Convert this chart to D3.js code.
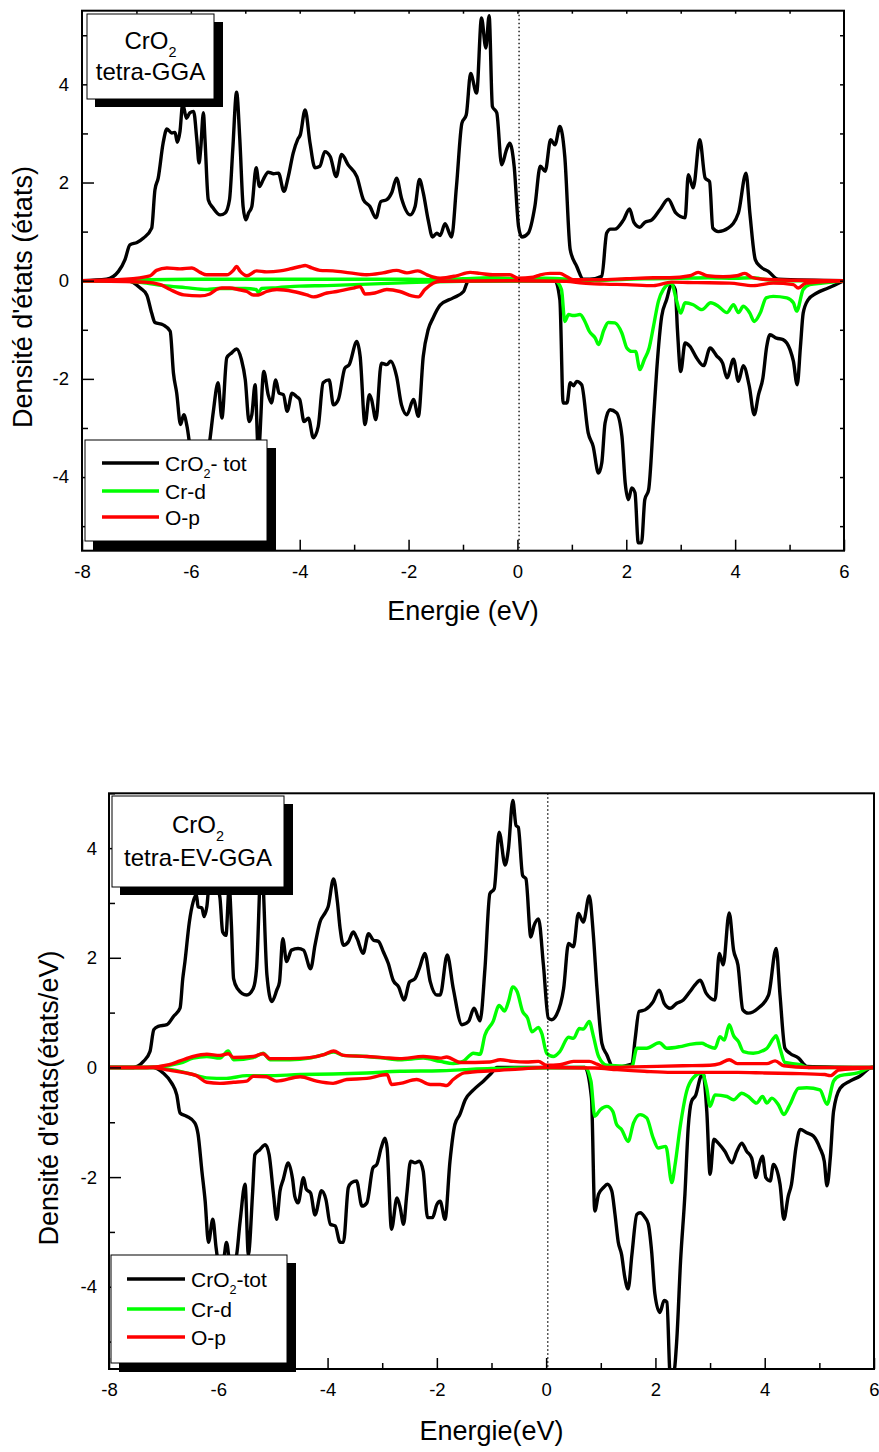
<!DOCTYPE html>
<html><head><meta charset="utf-8">
<script src="https://cdn.jsdelivr.net/npm/d3@7"></script>
<style>
body{margin:0;background:#fff}
svg{display:block}
text{font-family:"Liberation Sans",Arial,Helvetica,sans-serif;fill:#000}
</style>
</head><body>
<script>
// ---------- axes ----------
const xTicks = [-8, -6, -4, -2, 0, 2, 4, 6];
const xMinor = [-7, -5, -3, -1, 1, 3, 5];
const yTicks = [-4, -2, 0, 2, 4];
const yMinor = [-5, -3, -1, 1, 3, 5];
const seriesNames = ["CrO2- tot", "Cr-d", "O-p"];

// ---------- panel 1 : tetra-GGA ----------
const p1TotUpE = [-8,-7.55,-7.33,-7.21,-7.12,-6.99,-6.87,-6.72,-6.66,-6.60,-6.51,-6.44,-6.35,-6.29,-6.25,-6.20,-6.15,-6.08,-6.02,-5.95,-5.89,-5.85,-5.82,-5.77,-5.74,-5.68,-5.59,-5.46,-5.37,-5.29,-5.23,-5.16,-5.10,-5.04,-4.99,-4.94,-4.88,-4.80,-4.74,-4.67,-4.58,-4.48,-4.39,-4.29,-4.21,-4.12,-4.04,-3.99,-3.90,-3.81,-3.72,-3.63,-3.54,-3.44,-3.33,-3.23,-3.11,-2.95,-2.83,-2.71,-2.60,-2.51,-2.40,-2.31,-2.22,-2.13,-1.97,-1.88,-1.80,-1.73,-1.64,-1.56,-1.48,-1.42,-1.33,-1.21,-1.12,-1.02,-0.94,-0.86,-0.75,-0.66,-0.58,-0.52,-0.46,-0.38,-0.29,-0.20,-0.14,-0.06,0.02,0.08,0.20,0.32,0.42,0.51,0.61,0.69,0.78,0.87,0.97,1.09,1.21,1.33,1.55,1.64,1.71,1.79,1.95,2.06,2.14,2.25,2.34,2.47,2.62,2.77,2.91,3.08,3.14,3.23,3.35,3.45,3.53,3.59,3.69,3.87,4.06,4.20,4.27,4.37,4.46,4.61,4.79,6];
const p1TotUpD = [0,0.03,0.19,0.43,0.73,0.78,0.87,1.07,1.85,2.09,2.80,3.09,3.01,3.02,2.82,3.04,3.60,3.31,3.42,3.45,2.87,2.40,2.67,3.42,2.87,1.65,1.48,1.34,1.38,1.65,2.67,3.84,2.87,1.51,1.24,1.38,1.51,2.30,1.92,2.06,2.21,2.18,2.19,1.82,2.12,2.60,2.87,2.97,3.48,2.80,2.30,2.33,2.63,2.53,2.12,2.57,2.36,2.12,1.65,1.51,1.28,1.61,1.65,1.79,2.09,1.68,1.34,1.51,2.06,1.79,1.24,0.89,0.97,0.92,1.16,0.89,1.92,3.21,3.38,4.22,3.82,5.35,4.74,5.40,3.55,3.42,2.36,2.67,2.80,2.33,1.11,0.89,0.97,1.51,2.33,2.23,2.87,2.77,3.14,2.53,0.63,0.29,0.03,0.03,0.09,0.97,1.05,1.05,1.24,1.46,1.19,1.09,1.19,1.24,1.45,1.66,1.38,1.28,2.16,1.89,2.87,2.09,2.02,1.07,1.00,1.07,1.38,2.19,1.38,0.43,0.29,0.19,0.03,0];

const p1TotDnE = [-8,-7.15,-6.93,-6.81,-6.72,-6.66,-6.51,-6.38,-6.32,-6.26,-6.19,-6.13,-6.07,-6.00,-5.90,-5.78,-5.70,-5.65,-5.59,-5.50,-5.43,-5.34,-5.25,-5.16,-5.07,-5.00,-4.93,-4.88,-4.82,-4.76,-4.66,-4.58,-4.52,-4.44,-4.38,-4.30,-4.23,-4.14,-4.06,-4.00,-3.92,-3.84,-3.75,-3.66,-3.57,-3.46,-3.38,-3.29,-3.17,-3.09,-2.95,-2.89,-2.80,-2.72,-2.68,-2.60,-2.50,-2.40,-2.33,-2.22,-2.13,-2.03,-1.91,-1.82,-1.73,-1.64,-1.55,-1.42,-1.18,-0.99,-0.90,0.69,0.78,0.84,0.91,0.97,1.03,1.09,1.18,1.30,1.39,1.49,1.55,1.61,1.70,1.82,1.92,1.98,2.04,2.10,2.16,2.22,2.28,2.34,2.41,2.50,2.56,2.65,2.74,2.83,2.90,2.94,3.00,3.08,3.17,3.29,3.42,3.54,3.66,3.77,3.85,3.97,4.06,4.15,4.26,4.35,4.43,4.51,4.58,4.64,4.76,4.88,5.01,5.07,5.14,5.20,5.25,5.34,5.50,5.71,6];
const p1TotDnD = [0,0,-0.15,-0.29,-0.66,-0.85,-0.90,-1.03,-1.88,-2.29,-2.93,-2.73,-2.97,-3.5,-3.9,-3.7,-3.6,-3.24,-2.69,-2.08,-2.80,-1.57,-1.47,-1.39,-1.61,-2.02,-2.87,-2.73,-2.12,-3.5,-1.85,-2.32,-2.49,-2.02,-2.29,-2.32,-2.66,-2.29,-2.36,-2.42,-2.87,-2.80,-3.20,-2.97,-2.08,-2.02,-2.53,-2.42,-1.78,-1.71,-1.24,-1.54,-2.93,-2.32,-2.42,-2.83,-1.68,-1.71,-1.64,-1.95,-2.53,-2.73,-2.42,-2.76,-1.54,-1.00,-0.76,-0.50,-0.35,-0.22,0,0,-0.39,-2.49,-2.49,-2.08,-2.14,-2.05,-2.12,-3.10,-3.37,-3.92,-3.71,-2.90,-2.63,-2.69,-3.17,-4.12,-4.46,-4.22,-4.32,-5.34,-5.34,-4.46,-4.26,-2.83,-1.81,-0.73,-0.39,-0.08,-0.18,-1.00,-1.85,-1.27,-1.34,-1.57,-1.73,-1.37,-1.53,-1.68,-1.98,-1.60,-2.05,-1.73,-2.15,-2.73,-2.32,-1.98,-1.34,-1.10,-1.17,-1.20,-1.41,-1.64,-2.12,-1.34,-0.66,-0.39,-0.25,-0.15,0];

const p1CrUpE = [-8,-7.3,-6.8,-6.0,-5.0,-4.0,-3.0,-2.0,-1.5,-1.0,-0.5,0,0.5,0.9,1.2,1.6,2.0,2.5,3.0,3.5,4.0,4.3,4.6,5.0,6];
const p1CrUpD = [0,0,0.02,0.03,0.03,0.03,0.03,0.03,0.02,0.04,0.06,0.04,0.05,0.03,0,0.01,0.03,0.04,0.05,0.06,0.05,0.06,0.02,0,0];

const p1CrDnE = [-8,-7.3,-6.9,-6.5,-6.1,-5.7,-5.5,-5.0,-4.8,-4.76,-4.7,-4.4,-4.0,-3.5,-3.0,-2.5,-2.0,-1.5,-1.0,0.69,0.81,0.87,0.94,1.03,1.15,1.24,1.32,1.43,1.49,1.59,1.67,1.79,1.92,2.01,2.10,2.17,2.25,2.33,2.42,2.50,2.59,2.68,2.83,2.92,3.00,3.08,3.23,3.39,3.55,3.69,3.85,3.97,4.06,4.15,4.27,4.35,4.46,4.57,4.70,4.95,5.07,5.13,5.25,5.37,5.61,6];
const p1CrDnD = [0,0,-0.04,-0.10,-0.14,-0.18,-0.16,-0.16,-0.18,-0.24,-0.16,-0.14,-0.11,-0.10,-0.08,-0.06,-0.04,-0.02,-0.01,0,-0.18,-0.83,-0.69,-0.71,-0.69,-0.83,-1.03,-1.17,-1.30,-1.00,-0.85,-0.86,-1.07,-1.37,-1.44,-1.44,-1.81,-1.61,-1.37,-0.93,-0.42,-0.18,-0.05,-0.39,-0.66,-0.45,-0.49,-0.59,-0.45,-0.52,-0.65,-0.49,-0.65,-0.52,-0.66,-0.83,-0.66,-0.35,-0.32,-0.35,-0.45,-0.62,-0.18,-0.08,-0.05,0];

const p1OUpE = [-8,-7.2,-6.75,-6.63,-6.44,-6.20,-5.98,-5.83,-5.71,-5.34,-5.22,-5.16,-5.10,-4.97,-4.79,-4.61,-4.36,-4.18,-3.99,-3.90,-3.78,-3.63,-3.39,-3.08,-2.77,-2.47,-2.22,-2.03,-1.83,-1.66,-1.54,-1.42,-1.12,-0.87,-0.69,-0.45,-0.14,0.01,0.29,0.42,0.60,0.78,0.91,1.03,1.5,2.0,2.5,2.8,3.17,3.32,3.48,3.78,4.03,4.18,4.30,4.51,5.0,6];
const p1OUpD = [0,0.03,0.10,0.21,0.26,0.24,0.26,0.17,0.12,0.12,0.21,0.29,0.20,0.10,0.20,0.18,0.20,0.24,0.29,0.31,0.26,0.21,0.20,0.16,0.12,0.16,0.21,0.16,0.20,0.12,0.07,0.05,0.10,0.17,0.15,0.12,0.12,0.05,0.07,0.12,0.15,0.15,0.08,0.02,0.02,0.04,0.06,0.06,0.10,0.17,0.10,0.08,0.10,0.15,0.07,0.03,0.01,0];

const p1ODnE = [-8,-6.85,-6.56,-6.38,-6.13,-5.83,-5.65,-5.53,-5.43,-5.28,-5.13,-4.97,-4.85,-4.76,-4.61,-4.42,-4.12,-3.87,-3.75,-3.50,-3.32,-3.01,-2.89,-2.80,-2.62,-2.40,-2.16,-1.94,-1.82,-1.70,-1.55,-1.42,0,0.9,1.2,1.6,2.01,2.50,2.83,3.3,3.9,4.33,4.7,5.07,5.16,5.3,6];
const p1ODnD = [0,-0.03,-0.08,-0.18,-0.29,-0.31,-0.27,-0.18,-0.15,-0.15,-0.18,-0.22,-0.29,-0.29,-0.22,-0.18,-0.22,-0.29,-0.33,-0.25,-0.22,-0.15,-0.12,-0.27,-0.25,-0.18,-0.22,-0.31,-0.33,-0.18,-0.05,-0.01,0,-0.01,-0.05,-0.07,-0.08,-0.10,-0.03,-0.04,-0.05,-0.10,-0.05,-0.08,-0.15,-0.05,0];

// ---------- panel 2 : tetra-EV-GGA ----------
const p2TotUpE = [-8,-7.55,-7.37,-7.25,-7.18,-7.10,-6.94,-6.82,-6.70,-6.65,-6.61,-6.53,-6.46,-6.40,-6.37,-6.30,-6.26,-6.21,-6.15,-6.05,-5.97,-5.92,-5.86,-5.80,-5.76,-5.72,-5.65,-5.48,-5.36,-5.30,-5.21,-5.11,-5.02,-4.93,-4.88,-4.82,-4.75,-4.66,-4.54,-4.44,-4.31,-4.23,-4.14,-4.05,-3.99,-3.89,-3.82,-3.77,-3.71,-3.62,-3.53,-3.46,-3.35,-3.25,-3.16,-3.07,-2.98,-2.89,-2.80,-2.70,-2.60,-2.50,-2.40,-2.31,-2.22,-2.12,-2.00,-1.94,-1.81,-1.70,-1.54,-1.42,-1.32,-1.21,-1.12,-1.03,-0.95,-0.86,-0.75,-0.69,-0.61,-0.55,-0.51,-0.43,-0.37,-0.28,-0.22,-0.14,-0.05,0.04,0.10,0.19,0.32,0.41,0.50,0.59,0.68,0.79,0.86,0.93,1.02,1.11,1.23,1.57,1.63,1.70,1.81,1.96,2.07,2.16,2.27,2.39,2.51,2.63,2.72,2.82,2.93,3.09,3.17,3.24,3.35,3.43,3.51,3.60,3.70,3.88,4.07,4.21,4.28,4.37,4.46,4.62,4.77,6];
const p2TotUpD = [0,0,0.11,0.29,0.69,0.75,0.78,0.93,1.08,1.62,1.93,2.65,3.02,3.15,2.93,2.91,2.75,2.93,3.5,3.4,3.1,2.47,2.41,3.3,2.6,1.62,1.44,1.32,1.44,1.80,3.8,1.69,1.20,1.41,1.56,2.35,1.93,2.14,2.17,2.14,1.80,2.23,2.65,2.81,2.93,3.44,3.02,2.53,2.23,2.29,2.47,2.35,2.08,2.44,2.32,2.30,2.11,1.90,1.59,1.47,1.23,1.56,1.62,1.84,2.08,1.56,1.32,1.32,2.05,1.44,0.78,0.84,1.08,0.85,1.80,3.17,3.26,4.29,3.69,3.99,4.87,4.41,4.38,3.50,3.44,2.38,2.59,2.71,1.87,0.90,0.87,0.96,1.44,2.26,2.20,2.81,2.65,3.13,2.47,1.44,0.44,0.23,0,0.06,0.53,1.02,1.05,1.20,1.41,1.17,1.08,1.17,1.23,1.38,1.50,1.59,1.35,1.23,2.08,1.87,2.82,2.14,1.87,1.05,0.99,1.08,1.32,2.17,1.32,0.35,0.26,0.17,0.02,0];

const p2TotDnE = [-8,-7.19,-7.01,-6.85,-6.76,-6.70,-6.58,-6.43,-6.37,-6.30,-6.24,-6.18,-6.10,-6.04,-5.97,-5.90,-5.85,-5.78,-5.68,-5.60,-5.51,-5.45,-5.37,-5.33,-5.24,-5.14,-5.07,-4.99,-4.93,-4.87,-4.81,-4.72,-4.64,-4.60,-4.54,-4.44,-4.39,-4.31,-4.23,-4.11,-4.03,-3.95,-3.86,-3.77,-3.71,-3.62,-3.56,-3.47,-3.37,-3.28,-3.17,-3.10,-3.02,-2.95,-2.91,-2.83,-2.73,-2.67,-2.61,-2.55,-2.48,-2.40,-2.32,-2.25,-2.17,-2.08,-2.00,-1.94,-1.85,-1.76,-1.67,-1.58,-1.48,-1.33,-1.15,-1.00,-0.90,0.71,0.83,0.89,0.96,1.05,1.12,1.20,1.26,1.32,1.38,1.44,1.50,1.57,1.66,1.72,1.81,1.87,1.93,1.99,2.08,2.16,2.21,2.27,2.33,2.39,2.46,2.54,2.60,2.66,2.74,2.82,2.87,2.94,3.00,3.07,3.15,3.27,3.40,3.49,3.58,3.67,3.76,3.84,3.90,3.96,4.02,4.10,4.16,4.28,4.35,4.43,4.49,4.57,4.65,4.77,4.89,5.01,5.09,5.14,5.20,5.26,5.38,5.56,5.74,5.96,6];
const p2TotDnD = [0,0,-0.10,-0.29,-0.50,-0.83,-0.89,-1.01,-1.22,-1.89,-2.44,-3.19,-2.77,-3.29,-3.7,-3.5,-3.19,-3.6,-3.5,-2.80,-2.13,-3.41,-2.25,-1.59,-1.50,-1.41,-1.59,-2.31,-2.77,-2.25,-2.04,-1.74,-2.04,-2.35,-2.47,-2.01,-2.22,-2.29,-2.69,-2.25,-2.41,-2.86,-2.89,-3.19,-3.19,-2.19,-2.10,-2.07,-2.53,-2.47,-1.83,-1.77,-1.47,-1.29,-1.47,-2.95,-2.38,-2.56,-2.86,-2.31,-1.71,-1.74,-1.71,-1.89,-2.74,-2.74,-2.50,-2.44,-2.77,-1.71,-1.04,-0.86,-0.59,-0.41,-0.25,-0.10,0,0,-0.56,-2.62,-2.31,-2.19,-2.13,-2.25,-2.68,-3.19,-3.41,-3.83,-4.04,-3.41,-2.68,-2.65,-2.74,-2.86,-3.35,-4.13,-4.47,-4.25,-4.28,-5.6,-5.6,-4.98,-3.53,-2.31,-1.10,-0.62,-0.50,-0.19,-0.10,-0.80,-1.95,-1.31,-1.38,-1.53,-1.74,-1.53,-1.38,-1.53,-1.65,-2.01,-1.77,-1.62,-2.01,-2.07,-1.77,-2.13,-2.77,-2.35,-2.13,-1.47,-1.13,-1.19,-1.25,-1.47,-1.71,-2.16,-1.65,-0.80,-0.38,-0.25,-0.16,0,0];

const p2CrUpE = [-8,-7.37,-6.70,-6.46,-6.21,-5.97,-5.82,-5.72,-5.36,-5.18,-5.05,-4.69,-4.33,-4.05,-3.89,-3.71,-3.28,-2.98,-2.68,-2.25,-1.94,-1.70,-1.52,-1.33,-1.21,-1.12,-0.97,-0.86,-0.76,-0.69,-0.61,-0.53,-0.43,-0.34,-0.26,-0.14,-0.08,0.01,0.13,0.25,0.41,0.50,0.61,0.68,0.79,0.86,0.96,1.11,1.57,1.66,1.84,2.07,2.21,2.45,2.63,2.85,2.94,3.09,3.18,3.26,3.35,3.43,3.52,3.61,3.79,4.04,4.16,4.21,4.28,4.37,4.65,4.8,6];
const p2CrUpD = [0,0,0.08,0.17,0.20,0.17,0.30,0.14,0.18,0.26,0.14,0.14,0.17,0.24,0.28,0.22,0.20,0.17,0.14,0.17,0.11,0.07,0.11,0.26,0.24,0.59,0.84,1.13,1.03,1.20,1.47,1.38,1.02,0.90,0.65,0.73,0.62,0.26,0.20,0.29,0.55,0.53,0.71,0.70,0.84,0.59,0.20,0.04,0.02,0.35,0.35,0.45,0.35,0.38,0.42,0.44,0.40,0.35,0.56,0.50,0.78,0.58,0.47,0.29,0.26,0.35,0.53,0.58,0.35,0.09,0.05,0,0];

const p2CrDnE = [-8,-7.19,-6.8,-6.46,-6.21,-5.85,-5.48,-5.12,-4.5,-3.9,-3.28,-2.67,-1.94,-1.5,-1.0,-0.5,0.71,0.82,0.89,0.99,1.11,1.22,1.29,1.38,1.50,1.60,1.72,1.84,1.96,2.05,2.19,2.30,2.36,2.45,2.57,2.69,2.85,2.94,3.00,3.09,3.31,3.43,3.58,3.70,3.85,3.96,4.04,4.13,4.25,4.35,4.46,4.62,4.77,5.01,5.14,5.26,5.38,5.7,5.96,6];
const p2CrDnD = [0,0,-0.05,-0.13,-0.19,-0.20,-0.15,-0.15,-0.13,-0.12,-0.10,-0.07,-0.06,-0.04,-0.02,-0.01,0,-0.25,-0.89,-0.77,-0.71,-0.80,-1.04,-1.13,-1.35,-1.01,-0.86,-0.92,-1.29,-1.47,-1.44,-2.10,-1.77,-1.10,-0.44,-0.19,-0.10,-0.38,-0.71,-0.50,-0.53,-0.59,-0.47,-0.53,-0.65,-0.53,-0.65,-0.56,-0.68,-0.86,-0.68,-0.38,-0.37,-0.41,-0.67,-0.25,-0.15,-0.10,0,0];

const p2OUpE = [-8,-7.3,-6.9,-6.70,-6.46,-6.21,-5.97,-5.82,-5.72,-5.36,-5.18,-5.05,-4.69,-4.33,-4.05,-3.89,-3.71,-3.28,-2.98,-2.68,-2.25,-1.94,-1.82,-1.57,-1.03,-0.84,-0.60,-0.37,-0.14,0.01,0.25,0.50,0.79,0.93,1.11,1.6,2.5,3.0,3.18,3.35,3.50,4.04,4.19,4.35,4.8,6];
const p2OUpD = [0,0,0.05,0.12,0.20,0.24,0.22,0.25,0.18,0.20,0.25,0.16,0.16,0.18,0.24,0.30,0.22,0.20,0.18,0.16,0.20,0.17,0.19,0.09,0.10,0.14,0.11,0.10,0.11,0.04,0.05,0.11,0.11,0.06,0,0.01,0.03,0.04,0.07,0.14,0.07,0.07,0.12,0.03,0,0];

const p2ODnE = [-8,-7.19,-6.9,-6.6,-6.40,-6.21,-5.97,-5.72,-5.48,-5.36,-5.12,-4.93,-4.50,-4.20,-3.90,-3.65,-3.28,-2.91,-2.83,-2.67,-2.37,-2.12,-1.94,-1.82,-1.70,-1.50,-1.00,-0.5,0,0.9,1.3,1.8,2.3,2.85,3.5,4.0,4.5,5.1,5.2,5.35,6];
const p2ODnD = [0,0,-0.05,-0.10,-0.15,-0.27,-0.29,-0.27,-0.25,-0.16,-0.17,-0.25,-0.17,-0.25,-0.29,-0.22,-0.20,-0.13,-0.31,-0.29,-0.22,-0.31,-0.31,-0.33,-0.22,-0.10,-0.06,-0.03,0,-0.01,-0.04,-0.07,-0.09,-0.09,-0.09,-0.10,-0.11,-0.13,-0.15,-0.05,0];

// ---------- drawing ----------
const W = 879, H = 1452;
const svg = d3.select("body").append("svg").attr("width", W).attr("height", H);
const zip = (E, D) => E.map((e, i) => [e, D[i]]);
const COLORS = {tot: "#000000", cr: "#00ff00", o: "#ff0000"};

function drawPanel(o) {
  const x = d3.scaleLinear().domain([-8, 6]).range([o.left, o.right]);
  const y = d3.scaleLinear().domain(o.yDomain).range([o.bottom, o.top]);
  const g = svg.append("g");
  const clipId = "clip" + o.id;
  svg.append("defs").append("clipPath").attr("id", clipId)
    .append("rect").attr("x", o.left).attr("y", o.top)
    .attr("width", o.right - o.left).attr("height", o.bottom - o.top);

  const line = d3.line().x(d => x(d[0])).y(d => y(d[1])).curve(d3.curveMonotoneX);
  const curves = g.append("g").attr("clip-path", `url(#${clipId})`);
  o.series.forEach(s => {
    curves.append("path").datum(zip(s.E, s.D))
      .attr("fill", "none").attr("stroke", COLORS[s.kind])
      .attr("stroke-width", 3.4).attr("stroke-linejoin", "round")
      .attr("d", line);
  });

  // Fermi level dotted line
  g.append("line").attr("x1", x(0.03)).attr("x2", x(0.03))
    .attr("y1", o.top).attr("y2", o.bottom)
    .attr("stroke", "#000").attr("stroke-width", 1.3).attr("stroke-dasharray", "1.5,2.5");

  // axes
  const ax = (gen, tr) => {
    const a = g.append("g").attr("transform", tr).call(gen);
    a.select(".domain").remove();
    a.selectAll("line").attr("stroke", "#000").attr("stroke-width", 1.5);
    a.selectAll("text").attr("font-size", o.tickFont).attr("fill", "#000")
      .attr("font-family", '"Liberation Sans",Arial,sans-serif');
    return a;
  };
  ax(d3.axisBottom(x).tickValues(xTicks).tickSize(-11).tickPadding(o.xPad)
      .tickFormat(d3.format("d")), `translate(0,${o.bottom})`);
  ax(d3.axisBottom(x).tickValues(xMinor).tickSize(-6).tickFormat(""), `translate(0,${o.bottom})`);
  ax(d3.axisLeft(y).tickValues(yTicks).tickSize(-12).tickPadding(o.yPad)
      .tickFormat(d3.format("d")), `translate(${o.left},0)`);
  ax(d3.axisLeft(y).tickValues(yMinor).tickSize(-6).tickFormat(""), `translate(${o.left},0)`);
  if (o.boxTicks) {
    ax(d3.axisTop(x).tickValues(d3.range(-7, 6)).tickSize(-3).tickFormat(""), `translate(0,${o.top})`);
    ax(d3.axisRight(y).tickValues(d3.range(-5, 6)).tickSize(-4).tickFormat(""), `translate(${o.right},0)`);
  }
  g.selectAll(".tick text").text(function(){ return d3.select(this).text().replace("\u2212", "-"); });

  // frame
  g.append("rect").attr("x", o.left).attr("y", o.top)
    .attr("width", o.right - o.left).attr("height", o.bottom - o.top)
    .attr("fill", "none").attr("stroke", "#000").attr("stroke-width", 2);

  // axis titles
  g.append("text").attr("x", (o.left + o.right) / 2).attr("y", o.xTitleY)
    .attr("text-anchor", "middle").attr("font-size", o.titleFont).text(o.xTitle);
  g.append("text").attr("transform", `translate(${o.yTitleX},${o.yTitleCY}) rotate(-90)`)
    .attr("text-anchor", "middle").attr("font-size", o.titleFont).text(o.yTitle);

  // title box
  const tb = o.tbox;
  g.append("rect").attr("x", tb.x + 8).attr("y", tb.y + 8).attr("width", tb.w + 1).attr("height", tb.h)
    .attr("fill", "#000");
  g.append("rect").attr("x", tb.x).attr("y", tb.y).attr("width", tb.w).attr("height", tb.h)
    .attr("fill", "#fff").attr("stroke", "#000").attr("stroke-width", 1);
  const cx = tb.x + tb.w / 2;
  const t1 = g.append("text").attr("x", cx).attr("y", tb.l1).attr("text-anchor", "middle")
    .attr("font-size", o.boxFont);
  t1.append("tspan").text("CrO");
  t1.append("tspan").attr("font-size", o.boxFont * 0.6).attr("dy", 8).text("2");
  g.append("text").attr("x", cx).attr("y", tb.l2).attr("text-anchor", "middle")
    .attr("font-size", o.boxFont).text(o.boxLabel);

  // legend
  const lg = o.legend;
  g.append("rect").attr("x", lg.x + 8).attr("y", lg.y + 8).attr("width", lg.w + 1).attr("height", lg.h + 1)
    .attr("fill", "#000");
  g.append("rect").attr("x", lg.x).attr("y", lg.y).attr("width", lg.w).attr("height", lg.h)
    .attr("fill", "#fff").attr("stroke", "#000").attr("stroke-width", 1);
  const kinds = ["tot", "cr", "o"];
  kinds.forEach((k, i) => {
    const yy = lg.rows[i];
    g.append("line").attr("x1", lg.x1).attr("x2", lg.x2).attr("y1", yy).attr("y2", yy)
      .attr("stroke", COLORS[k]).attr("stroke-width", 3.4);
    const t = g.append("text").attr("x", lg.tx).attr("y", yy + 7.5).attr("font-size", o.legFont);
    if (k === "tot") {
      t.append("tspan").text("CrO");
      t.append("tspan").attr("font-size", o.legFont * 0.6).attr("dy", 7).text("2");
      t.append("tspan").attr("dy", -7).text(o.totLabel);
    } else {
      t.text(seriesNames[i]);
    }
  });
}

drawPanel({
  id: 1, left: 82, right: 844, top: 10.7, bottom: 550.7, yDomain: [-5.5, 5.5],
  boxTicks: true, xPad: 14, yPad: 13, tickFont: 18.5, titleFont: 27, boxFont: 24, legFont: 21,
  xTitle: "Energie (eV)", xTitleY: 620, yTitle: "Densité d'états (états)", yTitleX: 32, yTitleCY: 297,
  tbox: {x: 87, y: 14, w: 127, h: 85, l1: 49, l2: 80}, boxLabel: "tetra-GGA",
  legend: {x: 85, y: 440, w: 182, h: 101, rows: [463, 491, 517], x1: 102, x2: 159, tx: 165},
  totLabel: "- tot",
  series: [
    {kind: "tot", E: p1TotUpE, D: p1TotUpD}, {kind: "tot", E: p1TotDnE, D: p1TotDnD},
    {kind: "cr", E: p1CrUpE, D: p1CrUpD}, {kind: "cr", E: p1CrDnE, D: p1CrDnD},
    {kind: "o", E: p1OUpE, D: p1OUpD}, {kind: "o", E: p1ODnE, D: p1ODnD}
  ]
});

drawPanel({
  id: 2, left: 109, right: 874, top: 793.3, bottom: 1369, yDomain: [-5.5, 5],
  boxTicks: false, xPad: 14, yPad: 12, tickFont: 18.5, titleFont: 27, boxFont: 24, legFont: 21,
  xTitle: "Energie(eV)", xTitleY: 1440, yTitle: "Densité d'états(états/eV)", yTitleX: 58, yTitleCY: 1098,
  tbox: {x: 112, y: 796, w: 172, h: 91, l1: 833, l2: 866}, boxLabel: "tetra-EV-GGA",
  legend: {x: 111, y: 1255, w: 176, h: 108, rows: [1279, 1309, 1337], x1: 127, x2: 185, tx: 191},
  totLabel: "-tot",
  series: [
    {kind: "tot", E: p2TotUpE, D: p2TotUpD}, {kind: "tot", E: p2TotDnE, D: p2TotDnD},
    {kind: "cr", E: p2CrUpE, D: p2CrUpD}, {kind: "cr", E: p2CrDnE, D: p2CrDnD},
    {kind: "o", E: p2OUpE, D: p2OUpD}, {kind: "o", E: p2ODnE, D: p2ODnD}
  ]
});
</script>
</body></html>
